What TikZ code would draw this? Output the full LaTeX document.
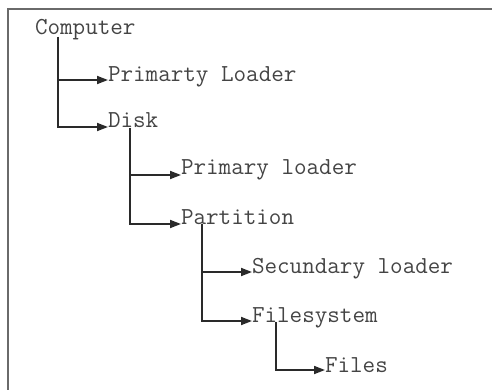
\documentclass[tikz,border=0pt]{standalone}
\usepackage{fontspec}
\usetikzlibrary{arrows.meta}
\definecolor{txt}{HTML}{444444}
\definecolor{ln}{HTML}{2A2A2A}
\definecolor{frame}{HTML}{6A6A6A}
\tikzset{
  item/.style={anchor=base west,inner sep=0pt,outer sep=0pt,text=txt,
    font=\ttfamily\fontsize{24.4}{28}\selectfont},
  branch/.style={draw=ln,line width=1.7pt,-{Triangle[length=11pt,width=8pt]}},
  frameline/.style={draw=frame,line width=2pt}
}
\begin{document}
\begin{tikzpicture}[x=1pt,y=-1pt]
\useasboundingbox (0,0) rectangle (492,390);
\draw[frameline] (8,390) -- (8,9) -- (492,9);
\node[item] (comp) at (35,35) {Computer};
\node[item] (pl)   at (108,82) {Primarty Loader};
\node[item] (disk) at (108,128) {Disk};
\node[item] (pl2)  at (181,175) {Primary loader};
\node[item] (part) at (181,224) {Partition};
\node[item] (sl)   at (252,273) {Secundary loader};
\node[item] (fs)   at (252,322) {Filesystem};
\node[item] (files) at (325,372) {Files};
\coordinate (c1) at ([xshift=23pt,yshift=-2pt]comp.base west);
\coordinate (c2) at ([xshift=22pt]disk.base west);
\coordinate (c3) at ([xshift=21pt]part.base west);
\coordinate (c4) at ([xshift=24pt]fs.base west);
\draw[branch] (c1) |- ([yshift=2pt]pl.base west);
\draw[branch] (c1) |- ([yshift=1pt]disk.base west);
\draw[branch] (c2) |- (pl2.base west);
\draw[branch] (c2) |- (part.base west);
\draw[branch] (c3) |- ([yshift=1pt]sl.base west);
\draw[branch] (c3) |- ([yshift=1pt]fs.base west);
\draw[branch] (c4) |- ([yshift=2pt]files.base west);
\end{tikzpicture}
\end{document}
